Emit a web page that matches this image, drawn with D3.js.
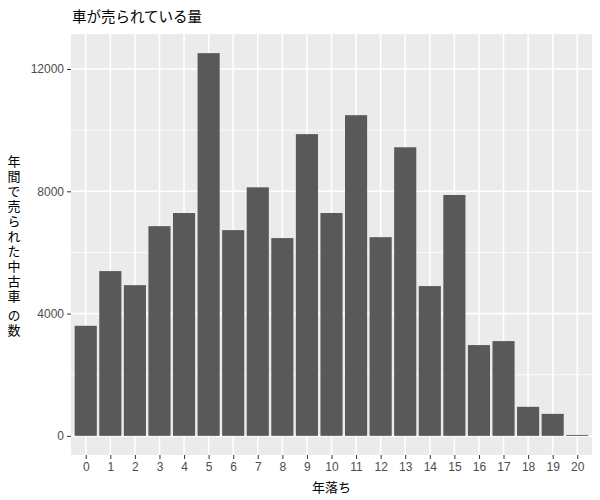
<!DOCTYPE html>
<html>
<head>
<meta charset="utf-8">
<script src="https://cdn.jsdelivr.net/npm/d3@7"></script>
<style>
  body { margin: 0; background: #fff; }
  text { font-family: "Liberation Sans", Arial, "Noto Sans CJK JP", sans-serif; }
  .jp { font-family: "Noto Sans CJK JP", sans-serif; }
</style>
</head>
<body>
<div id="chart"></div>
<script>
// years since registration (年落ち) and number of used cars sold per year
var years = ["0","1","2","3","4","5","6","7","8","9","10","11","12","13","14","15","16","17","18","19","20"];
var counts = [3600, 5390, 4930, 6860, 7290, 12520, 6730, 8130, 6470, 9870, 7290, 10490, 6500, 9440, 4900, 7880, 2970, 3100, 950, 720, 30];
var yTicks = [0, 4000, 8000, 12000];
var yMinor = [2000, 6000, 10000];

var title = "車が売られている量";
var xTitle = "年落ち";
var yTitle = "年間で売られた中古車\u2009の数";

var W = 600, H = 500;
var margin = {top: 34, right: 8, bottom: 45, left: 71};
var pw = W - margin.left - margin.right,
    ph = H - margin.top - margin.bottom;

var svg = d3.select("#chart").append("svg")
  .attr("width", W)
  .attr("height", H);

// discrete x scale, ggplot style: 0.6 unit padding each side, bars 0.9 wide
var n = years.length;
var unit = pw / (n - 1 + 1.2);
var x = d3.scalePoint()
  .domain(years)
  .range([0.6 * unit, pw - 0.6 * unit]);

var yMax = d3.max(counts);
var y = d3.scaleLinear()
  .domain([-0.05 * yMax, yMax * 1.05])
  .range([ph, 0]);

var g = svg.append("g")
  .attr("transform", "translate(" + margin.left + "," + margin.top + ")");

// panel background
g.append("rect")
  .attr("width", pw)
  .attr("height", ph)
  .attr("fill", "#EBEBEB");

// minor grid
g.selectAll(".minor")
  .data(yMinor)
  .enter().append("line")
  .attr("x1", 0).attr("x2", pw)
  .attr("y1", function (d) { return y(d); })
  .attr("y2", function (d) { return y(d); })
  .attr("stroke", "#fff")
  .attr("stroke-width", 0.8);

// major grid
g.selectAll(".hmajor")
  .data(yTicks)
  .enter().append("line")
  .attr("x1", 0).attr("x2", pw)
  .attr("y1", function (d) { return y(d); })
  .attr("y2", function (d) { return y(d); })
  .attr("stroke", "#fff")
  .attr("stroke-width", 1.6);

g.selectAll(".vmajor")
  .data(years)
  .enter().append("line")
  .attr("y1", 0).attr("y2", ph)
  .attr("x1", function (d) { return x(d); })
  .attr("x2", function (d) { return x(d); })
  .attr("stroke", "#fff")
  .attr("stroke-width", 1.6);

// bars
var bw = 0.9 * unit;
g.selectAll(".bar")
  .data(counts)
  .enter().append("rect")
  .attr("x", function (d, i) { return x(years[i]) - bw / 2; })
  .attr("width", bw)
  .attr("y", function (d) { return y(d); })
  .attr("height", function (d) { return y(0) - y(d); })
  .attr("fill", "#595959");

// axes
var xAxis = g.append("g")
  .attr("transform", "translate(0," + ph + ")")
  .call(d3.axisBottom(x).tickSize(4).tickPadding(3));
var yAxis = g.append("g")
  .call(d3.axisLeft(y).tickValues(yTicks).tickFormat(d3.format("d")).tickSize(4).tickPadding(3));

[xAxis, yAxis].forEach(function (a) {
  a.select(".domain").remove();
  a.selectAll(".tick line").attr("stroke", "#333").attr("stroke-width", 1);
  a.selectAll(".tick text")
    .attr("fill", "#4D4D4D")
    .style("font-size", "12px")
    .style("font-family", "'Liberation Sans', Arial, sans-serif");
});

// title
svg.append("text")
  .attr("class", "jp")
  .attr("x", margin.left + 1)
  .attr("y", 22)
  .style("font-size", "14.5px")
  .attr("fill", "#000")
  .text(title);

// x title
svg.append("text")
  .attr("class", "jp")
  .attr("x", margin.left + pw / 2)
  .attr("y", 492)
  .attr("text-anchor", "middle")
  .style("font-size", "13px")
  .attr("fill", "#000")
  .text(xTitle);

// y title, upright vertical text
svg.append("text")
  .attr("class", "jp")
  .attr("x", 14)
  .attr("y", margin.top + ph / 2 + 2)
  .attr("text-anchor", "middle")
  .style("writing-mode", "vertical-rl")
  .style("letter-spacing", "2px")
  .style("font-size", "13px")
  .attr("fill", "#000")
  .text(yTitle);
</script>
</body>
</html>
